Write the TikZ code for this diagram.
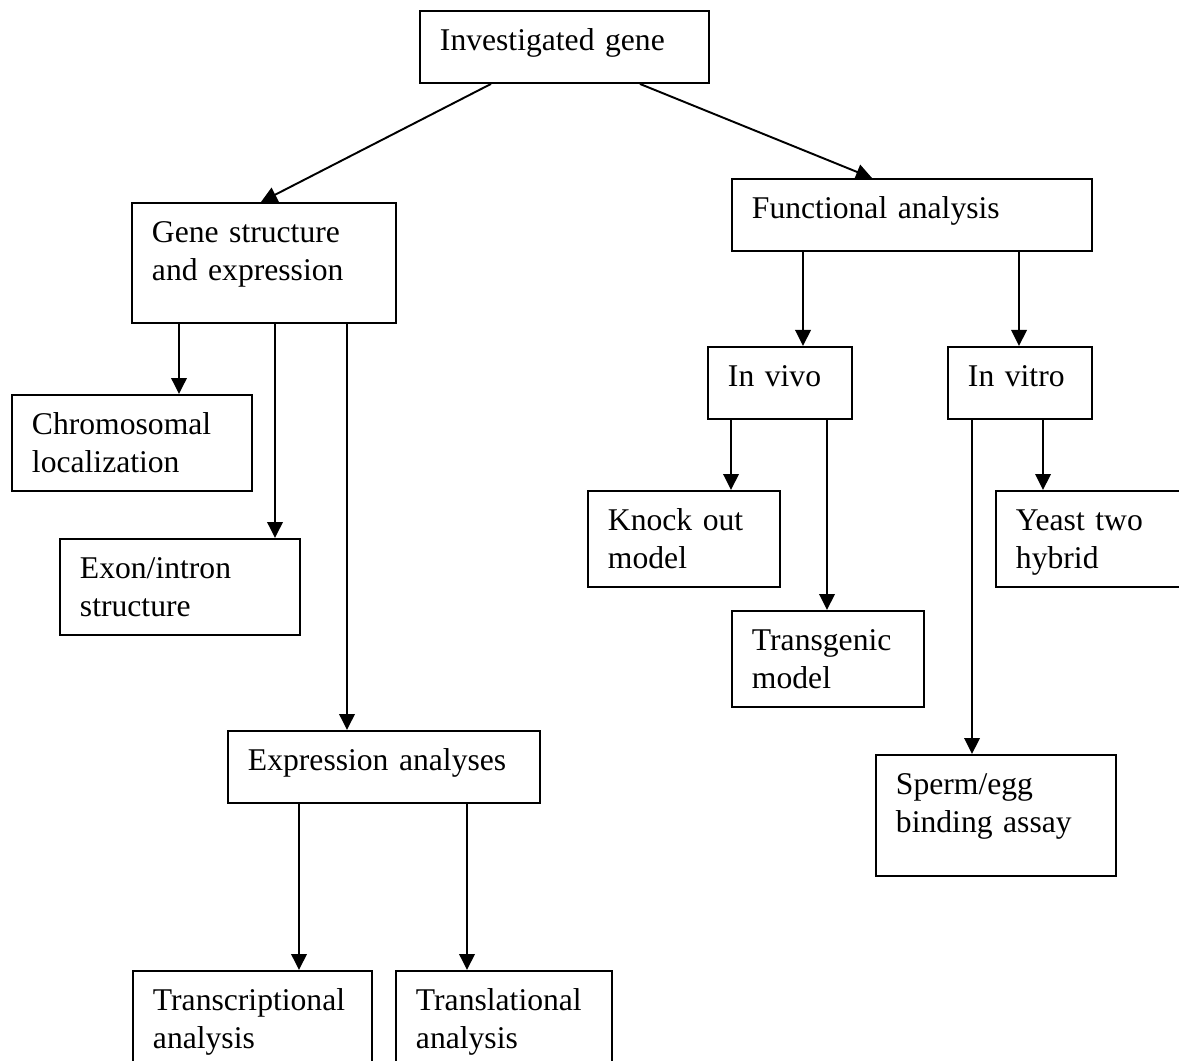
\documentclass[tikz,border=0pt]{standalone}
\usepackage{fontspec}
\setmainfont{Liberation Serif}
\usepackage{tikz}
\usetikzlibrary{arrows.meta,positioning,calc}
\newcommand{\genefont}{\fontsize{18}{21.6}\selectfont}
\tikzset{
  gbox/.style 2 args={draw, line width=1.1pt, anchor=north west, align=left,
                      inner xsep=0.4cm, inner ysep=0pt, font=\genefont,
                      text height=0.8cm, text width=#1, text depth=#2},
  arr/.style={-{Triangle[length=0.32cm,width=0.31cm]}, line width=1.1pt},
}
\begin{document}
\begin{tikzpicture}

\path[use as bounding box, fill=white] (0,0) rectangle (23.58,-21.22);

% top level
\node[gbox={4.98cm}{0.64cm}] (gene) at (8.38,-0.20) {Investigated gene};

% gene structure branch
\node[gbox={4.48cm}{1.60cm}] (struct) at (2.62,-4.04) {Gene structure\\and expression};
\node[gbox={4.00cm}{1.12cm}] (chrom) at (0.22,-7.88) {Chromosomal\\localization};
\node[gbox={4.00cm}{1.12cm}] (exon) at (1.18,-10.76) {Exon/intron\\structure};
\node[gbox={5.44cm}{0.64cm}] (expr) at (4.54,-14.60) {Expression analyses};
\node[gbox={3.98cm}{1.60cm}] (transc) at (2.64,-19.40) {Transcriptional\\analysis};
\node[gbox={3.52cm}{1.60cm}] (transl) at (7.90,-19.40) {Translational\\analysis};

% functional branch
\node[gbox={6.40cm}{0.64cm}] (func) at (14.62,-3.56) {Functional analysis};
\node[gbox={2.08cm}{0.64cm}] (vivo) at (14.14,-6.92) {In vivo};
\node[gbox={2.08cm}{0.64cm}] (vitro) at (18.94,-6.92) {In vitro};
\node[gbox={3.04cm}{1.12cm}] (knock) at (11.74,-9.80) {Knock out\\model};
\node[gbox={3.04cm}{1.12cm}] (transg) at (14.62,-12.20) {Transgenic\\model};
\node[gbox={3.04cm}{1.12cm}] (yeast) at (19.90,-9.80) {Yeast two\\hybrid};
\node[gbox={4.00cm}{1.62cm}] (sperm) at (17.50,-15.08) {Sperm/egg\\binding assay};

% connectors from the top
\draw[arr] ([xshift=1.44cm]gene.south west) -- ([xshift=-0.06cm]struct.north);
\draw[arr] ([xshift=-1.40cm]gene.south east) -- ([xshift=2.82cm]func.north west);

% gene structure connectors
\draw[arr] ([xshift=0.96cm]struct.south west) coordinate (s-chrom) -- (s-chrom |- chrom.north);
\draw[arr] ([xshift=2.88cm]struct.south west) coordinate (s-exon) -- (s-exon |- exon.north);
\draw[arr] ([xshift=4.32cm]struct.south west) coordinate (s-expr) -- (s-expr |- expr.north);
\draw[arr] ([xshift=1.44cm]expr.south west) coordinate (e-transc) -- (e-transc |- transc.north);
\draw[arr] ([xshift=4.80cm]expr.south west) coordinate (e-transl) -- (e-transl |- transl.north);

% functional connectors
\draw[arr] ([xshift=1.44cm]func.south west) coordinate (f-vivo) -- (f-vivo |- vivo.north);
\draw[arr] ([xshift=5.76cm]func.south west) coordinate (f-vitro) -- (f-vitro |- vitro.north);
\draw[arr] ([xshift=0.48cm]vivo.south west) coordinate (v-knock) -- (v-knock |- knock.north);
\draw[arr] ([xshift=2.40cm]vivo.south west) coordinate (v-transg) -- (v-transg |- transg.north);
\draw[arr] ([xshift=0.50cm]vitro.south west) coordinate (t-sperm) -- (t-sperm |- sperm.north);
\draw[arr] ([xshift=1.92cm]vitro.south west) coordinate (t-yeast) -- (t-yeast |- yeast.north);

\end{tikzpicture}
\end{document}
